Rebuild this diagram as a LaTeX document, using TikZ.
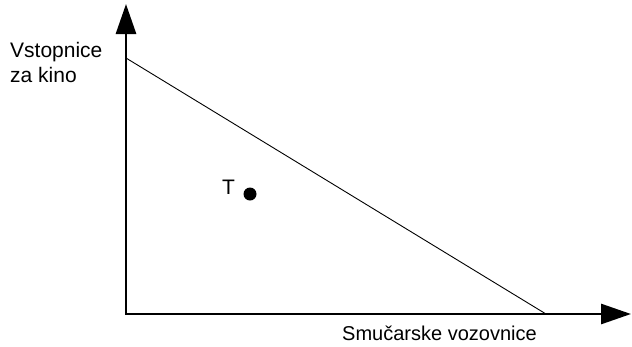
\documentclass[tikz,border=0pt]{standalone}
\usepackage{fontspec}
\setmainfont{Liberation Sans}
\usetikzlibrary{arrows.meta}
\begin{document}
\begin{tikzpicture}[x=1pt,y=-1pt,
  axis/.style={line width=2.8pt,line join=miter,{Triangle[length=30pt,width=20pt]}-{Triangle[length=30pt,width=20pt]}},
  budget/.style={line width=0.9pt},
  lbl/.style={inner sep=0pt,font=\fontsize{20}{25}\selectfont,anchor=base west},
  pt/.style={circle,fill=black,inner sep=0pt,minimum size=13pt}]
\useasboundingbox (0,0) rectangle (632,346);
\coordinate (ytip) at (126,4);
\coordinate (O) at (126,314);
\coordinate (xtip) at (631,314);
\coordinate (a) at (126,58);
\coordinate (b) at (546,314);
\draw[axis] (ytip) -- (O) -- (xtip);
\draw[budget] (a) -- (b);
\node[pt] (T) at (250,194) {};
\node[lbl,font=\fontsize{21}{25}\selectfont] (tl) at (222,194) {T};
\node[lbl,font=\fontsize{21}{25}\selectfont,align=left,anchor=north west] (ylab) at (10,42) {Vstopnice\\za kino};
\node[lbl] (xlab) at (342,340) {Smučarske vozovnice};
\end{tikzpicture}
\end{document}
